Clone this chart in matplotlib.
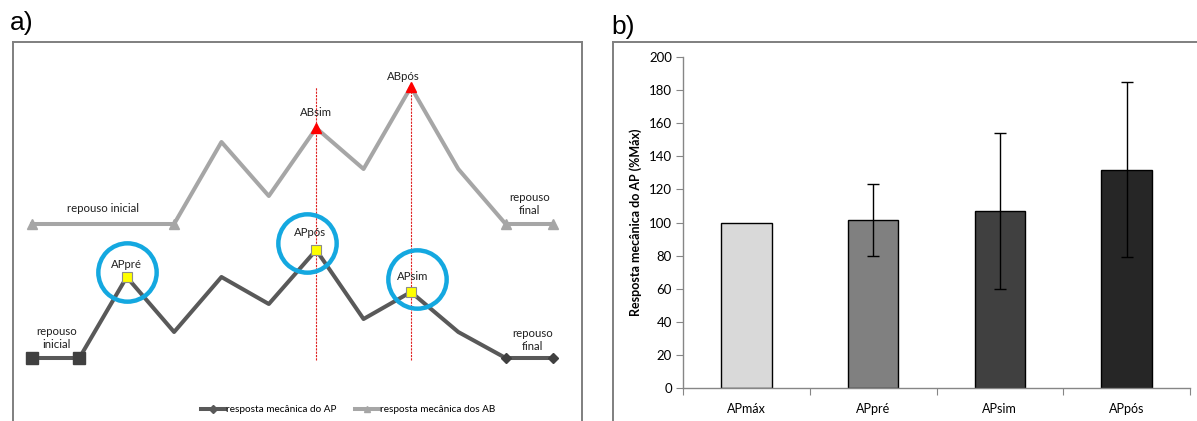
import numpy as np
import matplotlib
matplotlib.use('Agg')
import matplotlib.pyplot as plt
from matplotlib.lines import Line2D
from matplotlib.transforms import offset_copy

plt.rcParams['font.family'] = ['Lato', 'DejaVu Sans']

# ---- panel a) data: mechanical response profiles (arbitrary units)
steps = np.arange(12)
ap_resp = [0, 0, 4.05, 1.3, 4.05, 2.7, 5.4, 1.95, 3.3, 1.3, 0, 0]
ab_resp = [6.7, 6.7, 6.7, 6.7, 10.8, 8.1, 11.5, 9.45, 13.55, 9.45, 6.7, 6.7]
ap_rest_start = [0, 1]
ap_rest_end = [10, 11]
ap_marks = {2: 'APpré', 6: 'APpós', 8: 'APsim'}
ab_rest = [0, 3, 10, 11]
ab_marks = {6: 'ABsim', 8: 'ABpós'}

# ---- panel b) data
cats = ['APmáx', 'APpré', 'APsim', 'APpós']
means = [100, 101.5, 107, 132]
errs = [0, 21.5, 47, 53]
bar_cols = ['#d9d9d9', '#808080', '#404040', '#262626']

W, H = 1197, 421
fig = plt.figure(figsize=(W / 100, H / 100), dpi=100)

def px(x0, y0, x1, y1):
    # pixel box (top-left origin) -> figure rect
    return [x0 / W, 1 - y1 / H, (x1 - x0) / W, (y1 - y0) / H]

frame_col = '#7f7f7f'
ap_col = '#595959'
ab_col = '#a6a6a6'
lab_fs = 8.2

# ================= panel a =================
ax = fig.add_axes(px(13, 42, 582, 421))
ax.set_xlim(-0.401, 11.612)
ax.set_ylim(-3.15, 15.8)
ax.set_xticks([])
ax.set_yticks([])
for s in ['top', 'left', 'right']:
    ax.spines[s].set_color(frame_col)
    ax.spines[s].set_linewidth(1.4)
ax.spines['bottom'].set_visible(False)

ap = np.array(ap_resp)
ab = np.array(ab_resp)

# dashed guides through the AB peaks
ax.vlines(list(ab_marks), -0.1, ab.max(), colors='#e02020', linestyles=(0, (2, 1)),
          lw=0.8, zorder=1)

ax.plot(steps, ab, color=ab_col, lw=2.9, zorder=2)
ax.plot(steps, ap, color=ap_col, lw=2.9, zorder=2)

ax.plot(steps[ab_rest], ab[ab_rest], ls='none', marker='^', ms=7,
        color=ab_col, zorder=3)
hi = list(ab_marks)
ax.plot(steps[hi], ab[hi], ls='none', marker='^', ms=7, color='#ff0000', zorder=3)

ax.plot(steps[ap_rest_start], ap[ap_rest_start], ls='none', marker='s', ms=8,
        color='#404040', zorder=3)
ax.plot(steps[ap_rest_end], ap[ap_rest_end], ls='none', marker='D', ms=5,
        color='#404040', zorder=3)
hi = list(ap_marks)
ax.plot(steps[hi], ap[hi], ls='none', marker='s', ms=7.5, mfc='#ffff00',
        mec='#8c8c8c', mew=0.8, zorder=4)

# labels over highlighted points (offsets in pixels)
ap_lab_off = {2: (0, 13), 6: (-6, 18), 8: (2, 16)}
for i, name in ap_marks.items():
    ax.annotate(name, (steps[i], ap[i]), xytext=ap_lab_off[i], textcoords='offset pixels',
                ha='center', va='center', fontsize=lab_fs, color='#202020')
ab_lab_off = {6: (0, 16), 8: (-8, 11)}
for i, name in ab_marks.items():
    ax.annotate(name, (steps[i], ab[i]), xytext=ab_lab_off[i], textcoords='offset pixels',
                ha='center', va='center', fontsize=lab_fs, color='#202020')

# blue rings around the AP points
ring_off = {2: (0, 5), 6: (-9, 7), 8: (6, 13)}
for i in ap_marks:
    tr = offset_copy(ax.transData, fig=fig, x=ring_off[i][0], y=ring_off[i][1], units='dots')
    ax.plot(steps[i], ap[i], marker='o', ms=42, mfc='none', mec='#14a8e0', mew=3.2,
            transform=tr, zorder=5)

# rest phase notes
ax.annotate('repouso inicial', ((steps[0] + steps[3]) / 2, ab[0]), xytext=(0, 15),
            textcoords='offset pixels', ha='center', va='center', fontsize=lab_fs, color='#202020')
ax.annotate('repouso\nfinal', ((steps[10] + steps[11]) / 2, ab[10]), xytext=(0, 20),
            textcoords='offset pixels', ha='center', va='center', fontsize=lab_fs,
            color='#202020', linespacing=1.2)
ax.annotate('repouso\ninicial', ((steps[0] + steps[1]) / 2, ap[0]), xytext=(1, 20),
            textcoords='offset pixels', ha='center', va='center', fontsize=lab_fs,
            color='#202020', linespacing=1.2)
ax.annotate('repouso\nfinal', ((steps[10] + steps[11]) / 2, ap[10]), xytext=(3, 18),
            textcoords='offset pixels', ha='center', va='center', fontsize=lab_fs,
            color='#202020', linespacing=1.2)

handles = [Line2D([], [], color=ap_col, lw=2.9, marker='D', ms=4),
           Line2D([], [], color=ab_col, lw=2.9, marker='^', ms=5)]
ax.legend(handles, ['resposta mecânica do AP', 'resposta mecânica dos AB'],
          loc='center', bbox_to_anchor=(0.589, 0.03), ncol=2, frameon=False,
          fontsize=7.2, handlelength=2.4, handletextpad=0.1, columnspacing=1.8)

fig.text(10 / W, 1 - 23 / H, 'a)', fontsize=19, family='Liberation Sans', va='center')

# ================= panel b =================
fr = fig.add_axes(px(613, 42, 1215, 430))
fr.set_xticks([])
fr.set_yticks([])
for s in fr.spines.values():
    s.set_color(frame_col)
    s.set_linewidth(1.4)
fig.text(611 / W, 1 - 27 / H, 'b)', fontsize=19, family='Liberation Sans', va='center')

bx = fig.add_axes(px(683, 57, 1190, 388))
xpos = np.arange(len(cats))
bx.bar(xpos, means, width=0.4, color=bar_cols, edgecolor='black', linewidth=1.0, zorder=2)
err_idx = [i for i in xpos if errs[i] > 0]
bx.errorbar(xpos[err_idx], np.array(means)[err_idx], yerr=np.array(errs)[err_idx],
            fmt='none', ecolor='black', elinewidth=1.0, capsize=4, capthick=1.0, zorder=3)
bx.set_xlim(-0.5, 3.5)
bx.set_ylim(0, 200)
bx.set_yticks(np.arange(0, 201, 20))
bx.set_xticks(np.arange(-0.5, 3.6, 1))
bx.set_xticklabels([])
bx.set_xticks(xpos, minor=True)
bx.set_xticklabels(cats, minor=True)
bx.tick_params(axis='x', which='minor', length=0, pad=11, labelsize=9)
bx.tick_params(axis='x', which='major', length=5, color='#868686', direction='out')
bx.tick_params(axis='y', length=5, color='#868686', direction='out', labelsize=9.5, pad=3)
for s in ['top', 'right']:
    bx.spines[s].set_visible(False)
for s in ['left', 'bottom']:
    bx.spines[s].set_color('#868686')
    bx.spines[s].set_linewidth(1.0)
bx.set_ylabel('Resposta mecânica do AP (%Máx)', fontsize=9, fontweight='bold')
bx.yaxis.set_label_coords(-0.081, 0.5)
bx.patch.set_alpha(0)

fig.savefig('out.png', dpi=100)
